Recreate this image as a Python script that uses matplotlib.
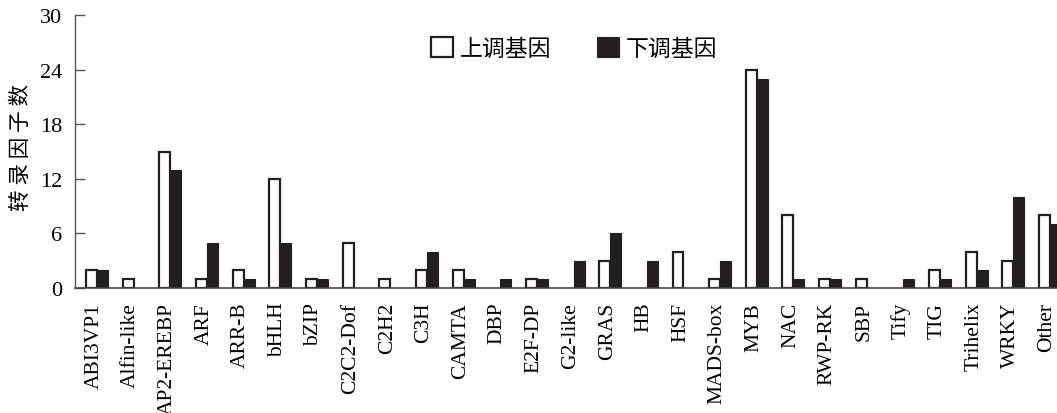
import matplotlib
matplotlib.use("Agg")
import matplotlib.pyplot as plt
import matplotlib.transforms as mtransforms
import numpy as np

categories = ["ABI3VP1", "Alfin-like", "AP2-EREBP", "ARF", "ARR-B", "bHLH", "bZIP",
              "C2C2-Dof", "C2H2", "C3H", "CAMTA", "DBP", "E2F-DP", "G2-like", "GRAS",
              "HB", "HSF", "MADS-box", "MYB", "NAC", "RWP-RK", "SBP", "Tify", "TIG",
              "Trihelix", "WRKY", "Other"]
up = [2, 1, 15, 1, 2, 12, 1, 5, 1, 2, 2, 0, 1, 0, 3, 0, 4, 1, 24, 8, 1, 1, 0, 2, 4, 3, 8]
down = [2, 0, 13, 5, 1, 5, 1, 0, 0, 4, 1, 1, 1, 3, 6, 3, 0, 3, 23, 1, 1, 0, 1, 1, 2, 10, 7]
yticks = [0, 6, 12, 18, 24, 30]
ylabel = "转 录 因 子 数"
legend_labels = ["上调基因", "下调基因"]

serif = ["Liberation Serif", "DejaVu Serif"]
cjk = ["Noto Sans CJK SC", "DejaVu Sans"]
dark = "#231f20"

fig = plt.figure(figsize=(10.57, 4.14), dpi=100)
ax = fig.add_axes([0.071, 0.302, 0.929, 0.659])

x = np.arange(len(categories))
w = 0.3
up_a = np.array(up, dtype=float)
down_a = np.array(down, dtype=float)
mu = up_a > 0
md = down_a > 0
ax.bar(x[mu] - w / 2, up_a[mu], width=w, facecolor="white", edgecolor=dark, linewidth=1.6,
       label=legend_labels[0], zorder=3)
ax.bar(x[md] + w / 2, down_a[md], width=w, facecolor=dark, edgecolor=dark, linewidth=0.8,
       label=legend_labels[1], zorder=2)

ax.set_xlim(-0.6, len(categories) - 1 + 0.19)
ax.set_ylim(0, 30)
ax.set_yticks(yticks)
ax.set_yticklabels([str(t) for t in yticks], family=serif, fontsize=16)
ax.tick_params(axis="y", direction="in", length=7, width=1.0, color="#555555", pad=9)
ax.set_xticks(x)
ax.set_xticklabels(categories, rotation=90, family=serif, fontsize=15.5)
ax.tick_params(axis="x", length=0, pad=10)
offset = mtransforms.ScaledTranslation(-3 / 100, 0, fig.dpi_scale_trans)
for lab in ax.get_xticklabels():
    lab.set_transform(lab.get_transform() + offset)

for s in ["top", "right"]:
    ax.spines[s].set_visible(False)
ax.spines["left"].set_color("#555555")
ax.spines["bottom"].set_color("#444444")
ax.spines["left"].set_linewidth(1.0)
ax.spines["bottom"].set_linewidth(1.2)
ax.spines["bottom"].set_zorder(5)

ax.set_ylabel(ylabel, family=cjk, fontsize=15.5)
ax.yaxis.set_label_coords(-0.044, 0.52)

leg = ax.legend(loc="upper center", bbox_to_anchor=(0.508, 0.995), ncol=2, frameon=False,
                prop={"family": cjk, "size": 16.5}, handlelength=0.95, handleheight=0.95,
                handletextpad=0.3, columnspacing=2.0)

fig.savefig("out.png", dpi=100)
